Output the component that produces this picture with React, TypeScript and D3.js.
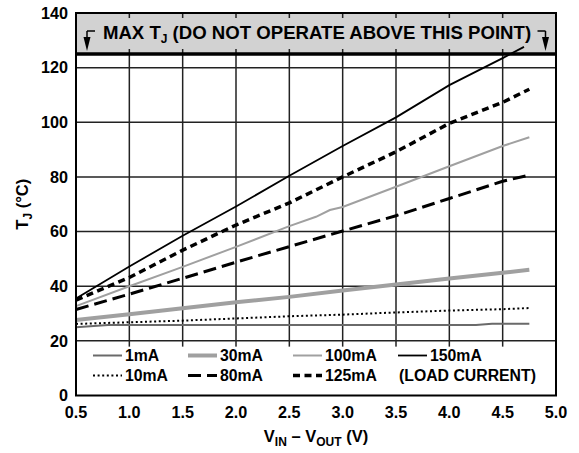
import React, { useEffect, useRef } from 'react';
import * as d3 from 'd3';

// V_IN - V_OUT sample points (V)
const vIn = [0.5, 1.0, 1.5, 2.0, 2.5, 3.0, 3.5, 4.0, 4.5, 4.75];
const v150 = [0.5, 1.0, 1.5, 2.0, 2.5, 3.0, 3.5, 4.0, 4.5, 4.7];
const v100 = [0.5, 1.0, 1.5, 2.0, 2.5, 2.75, 2.88, 3.0, 3.5, 4.0, 4.5, 4.75];
const v1 = [0.5, 0.8, 4.25, 4.4, 4.75];

// junction temperature (°C) per load current
const tj1mA = [25.0, 25.8, 25.8, 26.3, 26.3];
const tj10mA = [26.2, 26.8, 27.4, 28.2, 29.0, 29.6, 30.4, 31.1, 31.6, 32.0];
const tj30mA = [27.6, 29.7, 31.9, 34.1, 36.1, 38.4, 40.6, 42.8, 44.9, 46.0];
const tj80mA = [31.5, 37.1, 42.9, 48.8, 54.5, 60.2, 65.8, 72.1, 78.4, 80.7];
const tj100mA = [32.7, 40.0, 47.1, 54.4, 62.0, 65.4, 67.9, 69.0, 76.4, 83.9, 91.3, 94.5];
const tj125mA = [34.9, 43.2, 53.2, 62.4, 70.5, 80.0, 89.2, 99.6, 107.3, 112.1];
const tj150mA = [35.5, 47.2, 58.5, 69.2, 80.4, 91.3, 101.8, 113.6, 123.5, 127.6];

const xTicks = [0.5, 1.0, 1.5, 2.0, 2.5, 3.0, 3.5, 4.0, 4.5, 5.0];
const yTicks = [0, 20, 40, 60, 80, 100, 120, 140];
const maxTj = 125;

const FONT = '"Liberation Sans", Arial, sans-serif';

const App: React.FC = () => {
  const svgRef = useRef<SVGSVGElement | null>(null);

  useEffect(() => {
    const width = 579;
    const height = 453;
    const svg = d3.select(svgRef.current);
    svg.selectAll('*').remove();

    const margin = { top: 13, right: 23, bottom: 57.5, left: 76 };
    const x = d3.scaleLinear().domain([0.5, 5.0]).range([margin.left, width - margin.right]);
    const y = d3.scaleLinear().domain([0, 140]).range([height - margin.bottom, margin.top]);
    const x0 = x(0.5), x1 = x(5.0), yTop = y(140), yBot = y(0);

    svg.append('rect').attr('width', width).attr('height', height).attr('fill', '#fff');

    // grid
    const grid = svg.append('g').attr('stroke', '#222').attr('stroke-width', 1.5);
    grid.selectAll('line.v')
      .data(xTicks.slice(1, -1))
      .join('line')
      .attr('x1', d => x(d)).attr('x2', d => x(d))
      .attr('y1', yTop).attr('y2', y(20) + 6);
    grid.selectAll('line.h')
      .data(yTicks.slice(1, -1))
      .join('line')
      .attr('x1', x0).attr('x2', x1)
      .attr('y1', d => y(d)).attr('y2', d => y(d));

    // forbidden band above max Tj
    svg.append('rect')
      .attr('x', x0).attr('y', yTop)
      .attr('width', x1 - x0).attr('height', y(maxTj) - yTop)
      .attr('fill', '#d2d2d2');
    const bandTicks = svg.append('g').attr('stroke', '#222').attr('stroke-width', 1.5);
    xTicks.slice(1, -1).forEach(t => {
      bandTicks.append('line').attr('x1', x(t)).attr('x2', x(t)).attr('y1', yTop).attr('y2', yTop + 5);
      bandTicks.append('line').attr('x1', x(t)).attr('x2', x(t)).attr('y1', y(maxTj) - 5).attr('y2', y(maxTj));
    });
    svg.append('line')
      .attr('x1', x0).attr('x2', x1)
      .attr('y1', y(maxTj)).attr('y2', y(maxTj))
      .attr('stroke', '#000').attr('stroke-width', 3.5);

    // title in band
    const title = svg.append('text')
      .attr('x', (x0 + x1) / 2 + 1).attr('y', 38.5)
      .attr('text-anchor', 'middle')
      .attr('font-family', FONT).attr('font-weight', 'bold').attr('font-size', 18.6);
    title.append('tspan').text('MAX T');
    title.append('tspan').attr('font-size', 12).attr('dy', 4).text('J');
    title.append('tspan').attr('dy', -4).text(' (DO NOT OPERATE ABOVE THIS POINT)');

    // arrows
    const arrow = (sx: number, dir: number) => {
      const g = svg.append('g').attr('stroke', '#000').attr('stroke-width', 1.5);
      const ty = 31;
      g.append('line').attr('x1', sx).attr('x2', sx + dir * 8).attr('y1', ty).attr('y2', ty);
      g.append('line').attr('x1', sx).attr('x2', sx).attr('y1', ty).attr('y2', 40);
      svg.append('path')
        .attr('d', `M${sx - 3.5},37 L${sx + 3.5},37 L${sx},${y(maxTj) - 3} Z`)
        .attr('fill', '#000');
    };
    arrow(x0 + 11, 1);
    arrow(x1 - 10.5, -1);

    // legend area
    svg.append('rect')
      .attr('x', x0 + 1).attr('y', y(20) + 6)
      .attr('width', x1 - x0 - 2).attr('height', yBot - y(20) - 7)
      .attr('fill', '#fff');

    // curves
    const line = d3.line<[number, number]>().x(d => x(d[0])).y(d => y(d[1]));
    const series = [
      { name: '1mA', v: v1, t: tj1mA, color: '#6a6a6a', w: 2, dash: null },
      { name: '10mA', v: vIn, t: tj10mA, color: '#000', w: 2, dash: '2,2.6' },
      { name: '30mA', v: vIn, t: tj30mA, color: '#a0a0a0', w: 4, dash: null },
      { name: '80mA', v: vIn, t: tj80mA, color: '#000', w: 3, dash: '13,6' },
      { name: '100mA', v: v100, t: tj100mA, color: '#a0a0a0', w: 2, dash: null },
      { name: '125mA', v: vIn, t: tj125mA, color: '#000', w: 3.5, dash: '7,4.5' },
      { name: '150mA', v: v150, t: tj150mA, color: '#000', w: 1.8, dash: null },
    ];
    series.forEach(s => {
      svg.append('path')
        .datum(s.v.map((v, i) => [v, s.t[i]] as [number, number]))
        .attr('d', line)
        .attr('fill', 'none')
        .attr('stroke', s.color)
        .attr('stroke-width', s.w)
        .attr('stroke-dasharray', s.dash);
    });

    // frame
    svg.append('rect')
      .attr('x', x0).attr('y', yTop)
      .attr('width', x1 - x0).attr('height', yBot - yTop)
      .attr('fill', 'none').attr('stroke', '#000').attr('stroke-width', 2);

    // legend
    const legendItems = [
      { s: series[0], lx: 93, ly: 361 },
      { s: series[2], lx: 188, ly: 361 },
      { s: series[4], lx: 293, ly: 361 },
      { s: series[6], lx: 398, ly: 361 },
      { s: series[1], lx: 93, ly: 381 },
      { s: series[3], lx: 188, ly: 381 },
      { s: series[5], lx: 293, ly: 381 },
    ];
    legendItems.forEach(({ s, lx, ly }) => {
      svg.append('line')
        .attr('x1', lx).attr('x2', lx + 29).attr('y1', ly - 5.5).attr('y2', ly - 5.5)
        .attr('stroke', s.color).attr('stroke-width', s.w)
        .attr('stroke-dasharray', s.dash);
      svg.append('text')
        .attr('x', lx + 32).attr('y', ly)
        .attr('font-family', FONT).attr('font-weight', 'bold').attr('font-size', 15.8)
        .text(s.name);
    });
    svg.append('text')
      .attr('x', 399).attr('y', 381)
      .attr('font-family', FONT).attr('font-weight', 'bold').attr('font-size', 15.8)
      .text('(LOAD CURRENT)');

    // tick labels
    svg.append('g')
      .selectAll('text')
      .data(xTicks)
      .join('text')
      .attr('x', d => x(d)).attr('y', yBot + 22)
      .attr('text-anchor', 'middle')
      .attr('font-family', FONT).attr('font-weight', 'bold').attr('font-size', 16.2)
      .text(d => d3.format('.1f')(d));
    svg.append('g')
      .selectAll('text')
      .data(yTicks)
      .join('text')
      .attr('x', x0 - 8).attr('y', d => y(d) + 5.8)
      .attr('text-anchor', 'end')
      .attr('font-family', FONT).attr('font-weight', 'bold').attr('font-size', 16.2)
      .text(d => d);

    // axis titles
    const xt = svg.append('text')
      .attr('x', (x0 + x1) / 2).attr('y', 442)
      .attr('text-anchor', 'middle')
      .attr('font-family', FONT).attr('font-weight', 'bold').attr('font-size', 16.5);
    xt.append('tspan').text('V');
    xt.append('tspan').attr('font-size', 12).attr('dy', 4).text('IN');
    xt.append('tspan').attr('dy', -4).text(' – V');
    xt.append('tspan').attr('font-size', 12).attr('dy', 4).text('OUT');
    xt.append('tspan').attr('dy', -4).text(' (V)');

    const yt = svg.append('text')
      .attr('transform', `translate(28,${(yTop + yBot) / 2}) rotate(-90)`)
      .attr('text-anchor', 'middle')
      .attr('font-family', FONT).attr('font-weight', 'bold').attr('font-size', 16.5);
    yt.append('tspan').text('T');
    yt.append('tspan').attr('font-size', 12).attr('dy', 4).text('J');
    yt.append('tspan').attr('dy', -4).text(' (°C)');
  }, []);

  return (
    <svg
      ref={svgRef}
      width={579}
      height={453}
      style={{ position: 'absolute', left: 0, top: 0 }}
    />
  );
};

export default App;
